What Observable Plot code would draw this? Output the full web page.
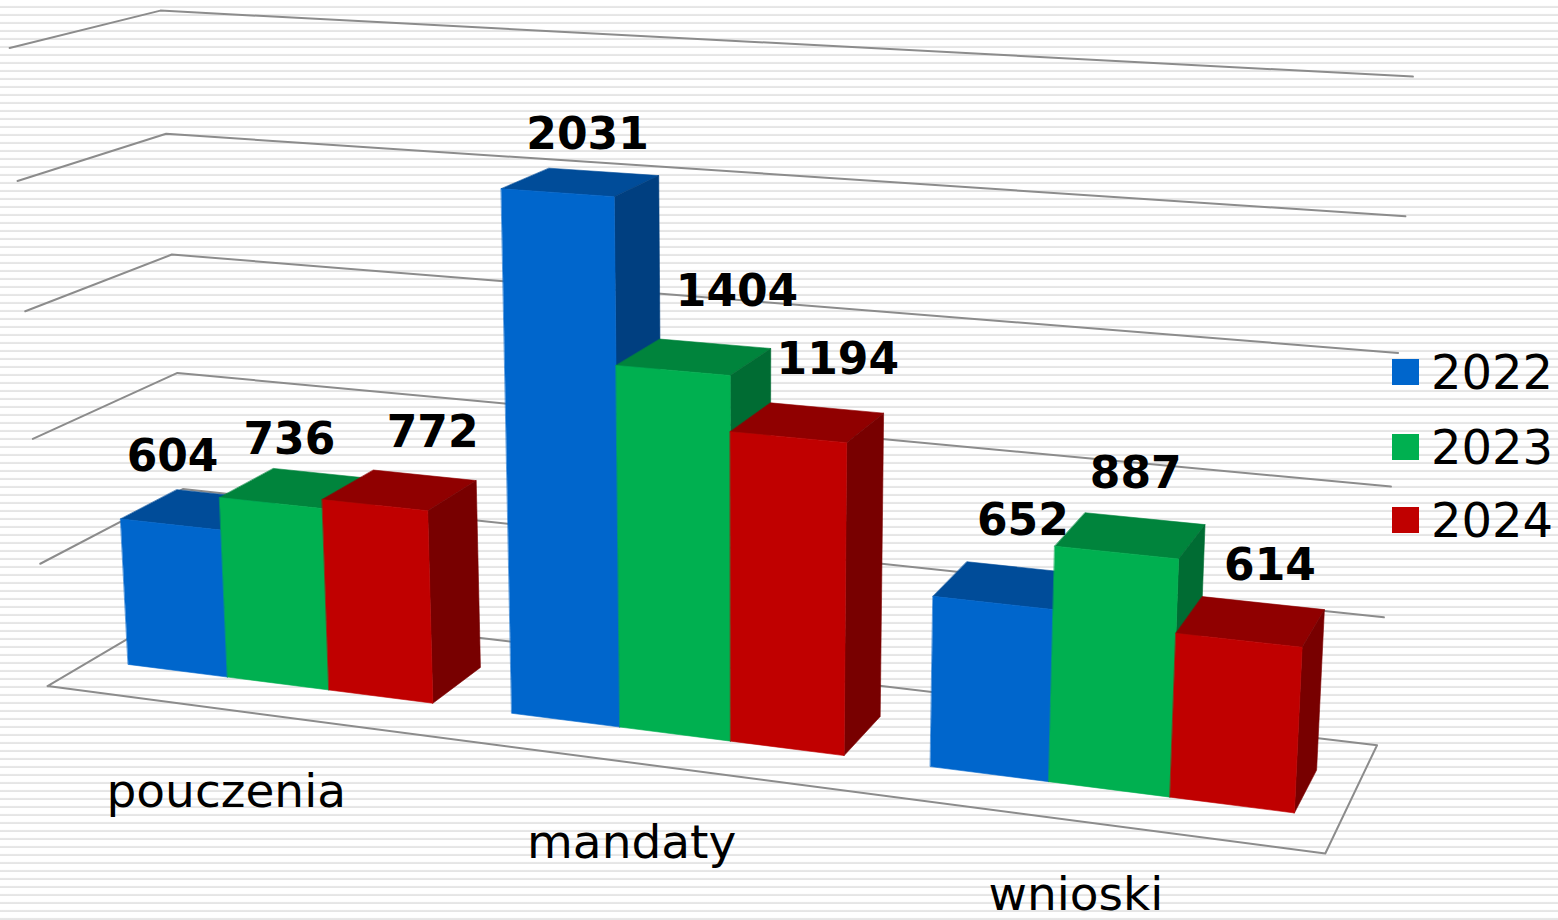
<!DOCTYPE html>
<html lang="pl">
<head>
<meta charset="utf-8">
<script src="https://cdn.jsdelivr.net/npm/d3@7"></script>
<script src="https://cdn.jsdelivr.net/npm/@observablehq/plot@0.6"></script>
<style>
html,body{margin:0;padding:0;width:1558px;height:920px;overflow:hidden}
body{position:relative;background:repeating-linear-gradient(to bottom,#fff 0,#fff 5.4px,#e5e5e5 6.6px,#e5e5e5 7.6px,#fff 8.8px,#fff 8px);background-size:100% 8.01px;font-family:"DejaVu Sans",Verdana,sans-serif}
#chart svg{position:absolute;left:0;top:0;background:transparent}
.leg{position:absolute;left:1392px;display:flex;align-items:center;height:40px}
.leg i{display:block;width:27px;height:26px;margin-right:12px}
.leg span{font-size:48px;line-height:40px;color:#000}
</style>
</head>
<body>
<div id="chart"></div>
<div id="legend"></div>
<script>
// ---- data ----
const categories = ["pouczenia", "mandaty", "wnioski"];
const years = ["2022", "2023", "2024"];
const values2022 = [604, 2031, 652];
const values2023 = [736, 1404, 887];
const values2024 = [772, 1194, 614];
const gridValues = [0, 500, 1000, 1500, 2000, 2500];
const frontColors = ["#0066CC", "#00B050", "#C00000"];
const topColors = ["#004C99", "#00843C", "#900000"];
const sideColors = ["#003F80", "#006C33", "#780000"];
const seriesValues = [values2022, values2023, values2024];

// ---- perspective camera of the 3-D box (value/category/depth -> picture) ----
const vMax = 2500;
const frontLeft  = [[46,685],[39,563],[32,439],[25,311],[18,181],[10,47]];
const backLeft   = [[190,603],[183,488],[176,373],[170,254],[165,133],[160,10]];
const backRight  = [[1377,745],[1383,617],[1390,485],[1397,353],[1405,216],[1413,76]];
const frontRightFloor = [1325,853];

function solve(A, b) {
  const n = b.length, M = A.map((r, i) => [...r, b[i]]);
  for (let c = 0; c < n; c++) {
    let p = c;
    for (let r = c + 1; r < n; r++) if (Math.abs(M[r][c]) > Math.abs(M[p][c])) p = r;
    [M[c], M[p]] = [M[p], M[c]];
    for (let r = 0; r < n; r++) if (r !== c) {
      const f = M[r][c] / M[c][c];
      for (let k = c; k <= n; k++) M[r][k] -= f * M[c][k];
    }
  }
  return M.map((r, i) => r[n] / r[i]);
}
const pairs = [];
gridValues.forEach((g, i) => {
  const z = g / vMax;
  pairs.push([0,0,z,...frontLeft[i]], [0,1,z,...backLeft[i]], [1,1,z,...backRight[i]]);
});
pairs.push([1,0,0,...frontRightFloor]);
const rows = [], rhs = [];
for (const [X,Y,Z,px,py] of pairs) {
  const x = px/1000, y = py/1000;
  rows.push([X,Y,Z,1,0,0,0,0,-x*X,-x*Y,-x*Z]); rhs.push(x);
  rows.push([0,0,0,0,X,Y,Z,1,-y*X,-y*Y,-y*Z]); rhs.push(y);
}
const N = 11;
const ATA = d3.range(N).map(i => d3.range(N).map(j => d3.sum(rows, r => r[i]*r[j])));
const ATb = d3.range(N).map(i => d3.sum(rows, (r,k) => r[i]*rhs[k]));
const P = solve(ATA, ATb);
function project(u, d, v) {
  const z = v / vMax;
  const w = P[8]*u + P[9]*d + P[10]*z + 1;
  return [1000*(P[0]*u+P[1]*d+P[2]*z+P[3])/w, 1000*(P[4]*u+P[5]*d+P[6]*z+P[7])/w];
}

// ---- layout in the box ----
const depthFront = 0.30, depthBack = 0.70;
const barU = 0.089, edgeU = 0.033;
const labelNudge = [[[-53,-38],[-34,-34],[8,-42]],[[-16,-37],[22,-52],[11,-48]],[[-2,-47],[-9,-45],[7,-37]]];
const catNudge = [[-11,81],[-11,79],[-11,73]];

// ---- build rows ----
const gridRows = [];
gridValues.forEach(g => {
  [[0,0],[0,1],[1,1]].forEach(([u,d]) => {
    const [x,y] = project(u,d,g); gridRows.push({id:"g"+g,x,y});
  });
});
[[1,1],[1,0],[0,0]].forEach(([u,d]) => { const [x,y] = project(u,d,0); gridRows.push({id:"g0",x,y}); });

const faces = [], valueLabels = [], catLabels = [];
function face(id, fill, pts){ pts.forEach(([u,d,v]) => { const [x,y] = project(u,d,v); faces.push({id,fill,x,y}); }); }
categories.forEach((cat, c) => {
  const [cx, cy] = project((c+0.5)/3, 0, 0);
  catLabels.push({text:cat, x:cx, y:cy, dx:catNudge[c][0], dy:catNudge[c][1]});
  years.forEach((yr, s) => {
    const v = seriesValues[s][c];
    const u0 = c/3 + edgeU + s*barU, u1 = u0 + barU;
    const d0 = depthFront, d1 = depthBack;
    face(`t${c}${s}`, topColors[s], [[u0,d0,v],[u1,d0,v],[u1,d1,v],[u0,d1,v]]);
    face(`s${c}${s}`, sideColors[s], [[u1,d0,0],[u1,d1,0],[u1,d1,v],[u1,d0,v]]);
    face(`f${c}${s}`, frontColors[s], [[u0,d0,0],[u1,d0,0],[u1,d0,v],[u0,d0,v]]);
    const [lx, ly] = project((u0+u1)/2, d1, v);
    valueLabels.push({text:String(v), x:lx+labelNudge[c][s][0], y:ly+labelNudge[c][s][1]});
  });
});

const chart = Plot.plot({
  width:1558, height:920, margin:0,
  x:{domain:[0,1558], range:[0,1558], axis:null},
  y:{domain:[0,920], range:[0,920], axis:null},
  color:{type:"identity"},
  style:{background:"transparent"},
  marks:[
    Plot.line(gridRows,{x:"x",y:"y",z:"id",stroke:"#8c8c8c",strokeWidth:2,curve:"linear"}),
    Plot.line(faces,{x:"x",y:"y",z:"id",fill:"fill",stroke:"fill",strokeWidth:0.6,curve:"linear-closed"}),
    Plot.text(valueLabels,{x:"x",y:"y",text:"text",fontSize:44,fontWeight:"bold",fontFamily:"DejaVu Sans",fill:"#000",textAnchor:"middle",lineAnchor:"middle"}),
    ...catLabels.map(l => Plot.text([l],{x:"x",y:"y",text:"text",dx:l.dx,dy:l.dy,fontSize:47,fontFamily:"DejaVu Sans",fill:"#000",textAnchor:"middle",lineAnchor:"middle"}))
  ]
});
document.getElementById("chart").append(chart);

// ---- legend ----
const legendTops = [352, 427, 500];
const legend = document.getElementById("legend");
years.forEach((yr,i) => {
  const d = document.createElement("div"); d.className="leg"; d.style.top = legendTops[i]+"px";
  const sw = document.createElement("i"); sw.style.background = frontColors[i];
  const t = document.createElement("span"); t.textContent = yr;
  d.append(sw,t); legend.append(d);
});
</script>
</body>
</html>
